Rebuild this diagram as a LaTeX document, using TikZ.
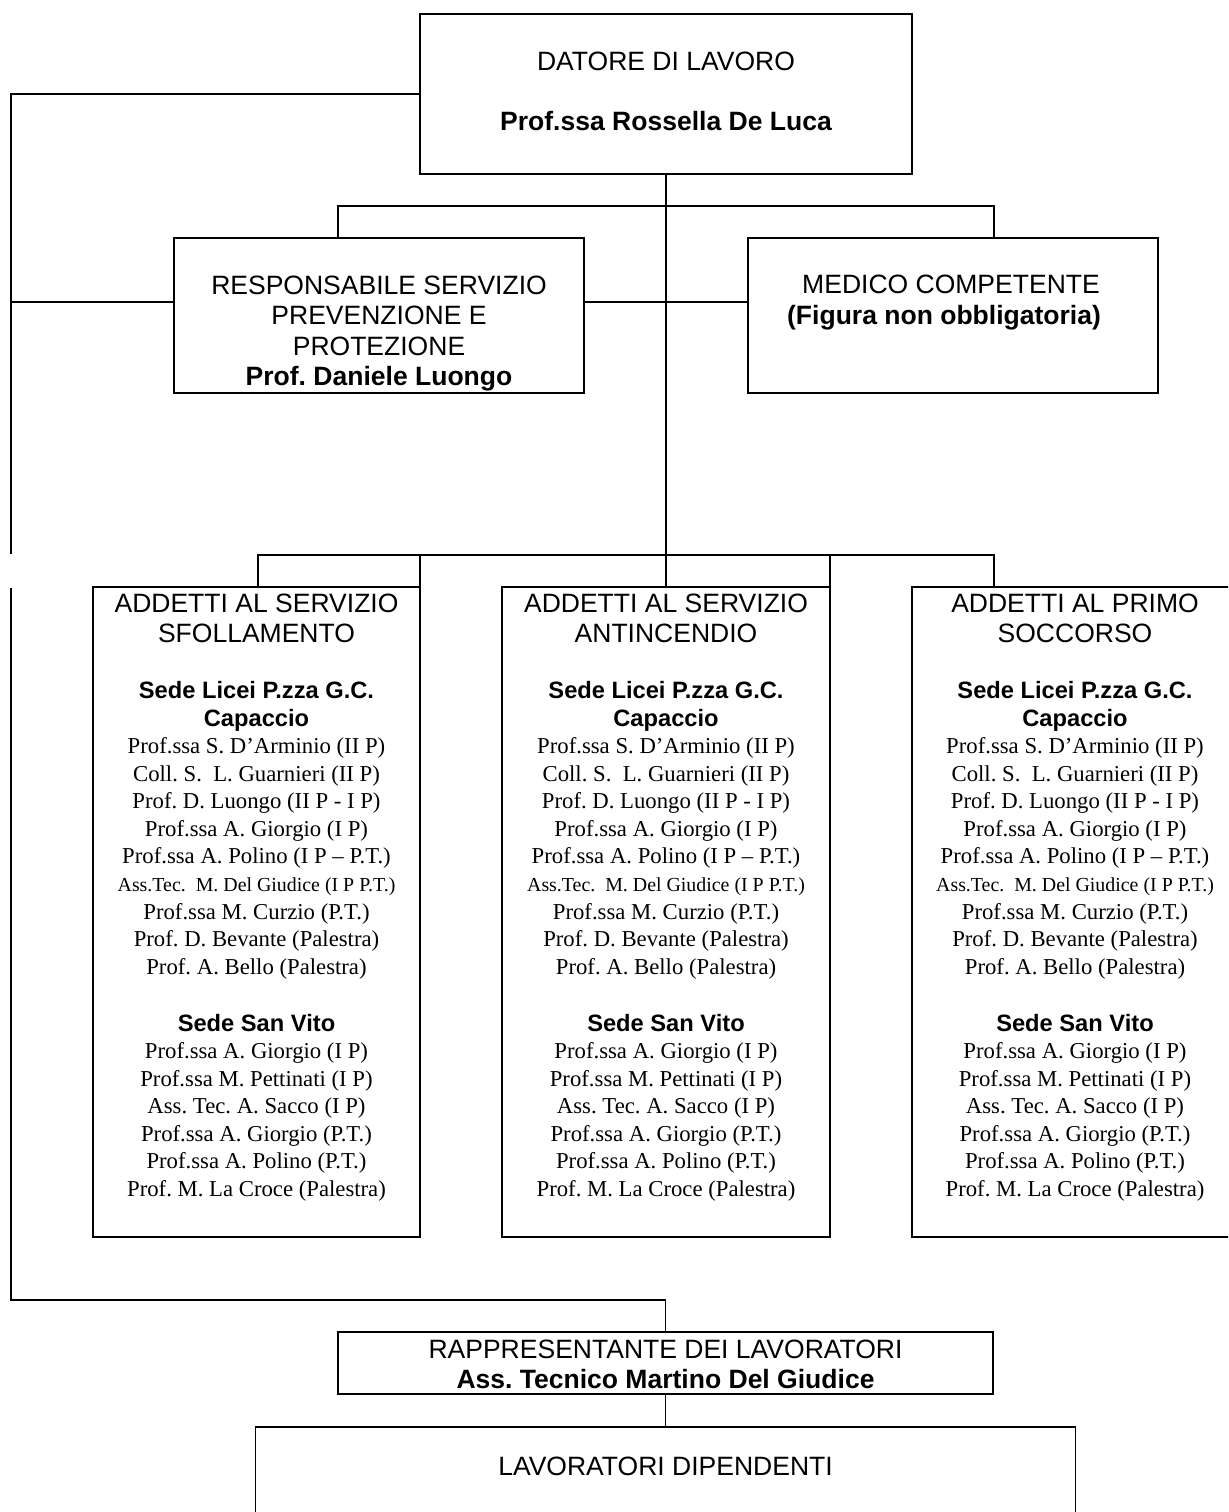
\documentclass[tikz,border=0pt]{standalone}
\usepackage{fontspec}
\setmainfont{Liberation Serif}
\setsansfont{Liberation Sans}
\frenchspacing
\newdimen\pxl \pxl=0.528pt
\tikzset{
  box/.style={draw,inner sep=0pt,outer sep=0pt},
  titolo/.style={anchor=base,inner sep=0pt,font=\sffamily\fontsize{14}{16}\selectfont},
  grassetto/.style={titolo,font=\sffamily\bfseries\fontsize{14}{16}\selectfont},
  sede/.style={anchor=base,inner sep=0pt,font=\sffamily\bfseries\fontsize{12.5}{15}\selectfont},
  nome/.style={anchor=base,inner sep=0pt,font=\rmfamily\fontsize{12}{14}\selectfont}
}
\newcommand{\elencolicei}{Prof.ssa S. D’Arminio (II P),Coll. S.\ \ L. Guarnieri (II P),Prof. D. Luongo (II P - I P),Prof.ssa A. Giorgio (I P),Prof.ssa A. Polino (I P -- P.T.),{\fontsize{10.5}{12}\selectfont Ass.Tec.\ \ M. Del Giudice (I P P.T.)},Prof.ssa M. Curzio (P.T.),Prof. D. Bevante (Palestra),Prof. A. Bello (Palestra)}
\newcommand{\elencosanvito}{Prof.ssa A. Giorgio (I P),Prof.ssa M. Pettinati (I P),Ass. Tec. A. Sacco (I P),Prof.ssa A. Giorgio (P.T.),Prof.ssa A. Polino (P.T.),Prof. M. La Croce (Palestra)}
% testo di un riquadro degli addetti
\newcommand{\squadra}[3]{%
  \begin{scope}[shift={(#1.north)}]
    \node[titolo] (#1-t1) at (0,25.5) {#2};
    \node[titolo] (#1-t2) at (0,55.5) {#3};
    \node[sede] (#1-s1) at (0,111) {Sede Licei P.zza G.C.};
    \node[sede] (#1-s2) at (0,139) {Capaccio};
    \foreach \nome [count=\i from 0] in \elencolicei
      \node[nome] (#1-a\i) at (0,166.5+27.6*\i) {\nome};
    \node[sede] (#1-s3) at (0,444) {Sede San Vito};
    \foreach \nome [count=\i from 0] in \elencosanvito
      \node[nome] (#1-b\i) at (0,471.5+27.6*\i) {\nome};
  \end{scope}}
\begin{document}
\begin{tikzpicture}[x=0.528pt,y=-0.528pt,line width=1pt]
\useasboundingbox (0,0) rectangle (1228,1512);
\clip (0,0) rectangle (1228,1512);
% riquadri
\node[box,minimum width=492\pxl,minimum height=160\pxl] (datore) at (666,94) {};
\node[box,minimum width=410\pxl,minimum height=155\pxl] (rspp) at (379,315.5) {};
\node[box,minimum width=410\pxl,minimum height=155\pxl] (medico) at (953,315.5) {};
\node[box,minimum width=327\pxl,minimum height=650\pxl] (sfoll) at (256.5,912) {};
\node[box,minimum width=328\pxl,minimum height=650\pxl] (antinc) at (666,912) {};
\node[box,minimum width=326\pxl,minimum height=650\pxl] (primo) at (1075,912) {};
\node[box,minimum width=655\pxl,minimum height=62\pxl] (rapp) at (665.5,1363) {};
\node[box,minimum width=820\pxl,minimum height=126\pxl] (lavor) at (665.5,1490) {};
% punti dei collegamenti
\coordinate (sideA) at (11,302);
\coordinate (gapT) at (11,554);
\coordinate (gapB) at (11,588);
\coordinate (turn) at (11,1300);
\coordinate (barA) at (338,206);
\coordinate (barB) at (994,206);
\coordinate (barC) at (258,555);
\coordinate (barD) at (994,555);
% collegamenti
\draw (datore.west) -| (gapT);
\draw (sideA) -- (sideA -| rspp.west);
\draw (rspp.east |- sideA) -- (medico.west |- sideA);
\draw (datore.south) -- (antinc.north);
\draw (barA |- rspp.north) |- (barB) -- (barB |- medico.north);
\draw (barC |- sfoll.north) |- (barD) -- (barD |- primo.north);
\draw (sfoll.north east) -- (sfoll.north east |- barC);
\draw (antinc.north east) -- (antinc.north east |- barC);
\draw (gapB) -- (turn) -| (rapp.north);
\draw (rapp.south) -- (lavor.north);
% testi
\node[titolo] (datore-t) at (666,71) {DATORE DI LAVORO};
\node[grassetto] (datore-n) at (666,131) {Prof.ssa Rossella De Luca};
\node[titolo] (rspp-t1) at (379,295) {RESPONSABILE SERVIZIO};
\node[titolo] (rspp-t2) at (379,325) {PREVENZIONE E};
\node[titolo] (rspp-t3) at (379,355) {PROTEZIONE};
\node[grassetto] (rspp-n) at (379,385) {Prof. Daniele Luongo};
\node[titolo] (medico-t) at (951,294) {MEDICO COMPETENTE};
\node[grassetto] (medico-n) at (944,325) {(Figura non obbligatoria)};
\squadra{sfoll}{ADDETTI AL SERVIZIO}{SFOLLAMENTO}
\squadra{antinc}{ADDETTI AL SERVIZIO}{ANTINCENDIO}
\squadra{primo}{ADDETTI AL PRIMO}{SOCCORSO}
\node[titolo] (rapp-t) at (665.5,1358) {RAPPRESENTANTE DEI LAVORATORI};
\node[grassetto] (rapp-n) at (665.5,1388) {Ass. Tecnico Martino Del Giudice};
\node[titolo] (lavor-t) at (665.5,1475) {LAVORATORI DIPENDENTI};
\end{tikzpicture}
\end{document}
